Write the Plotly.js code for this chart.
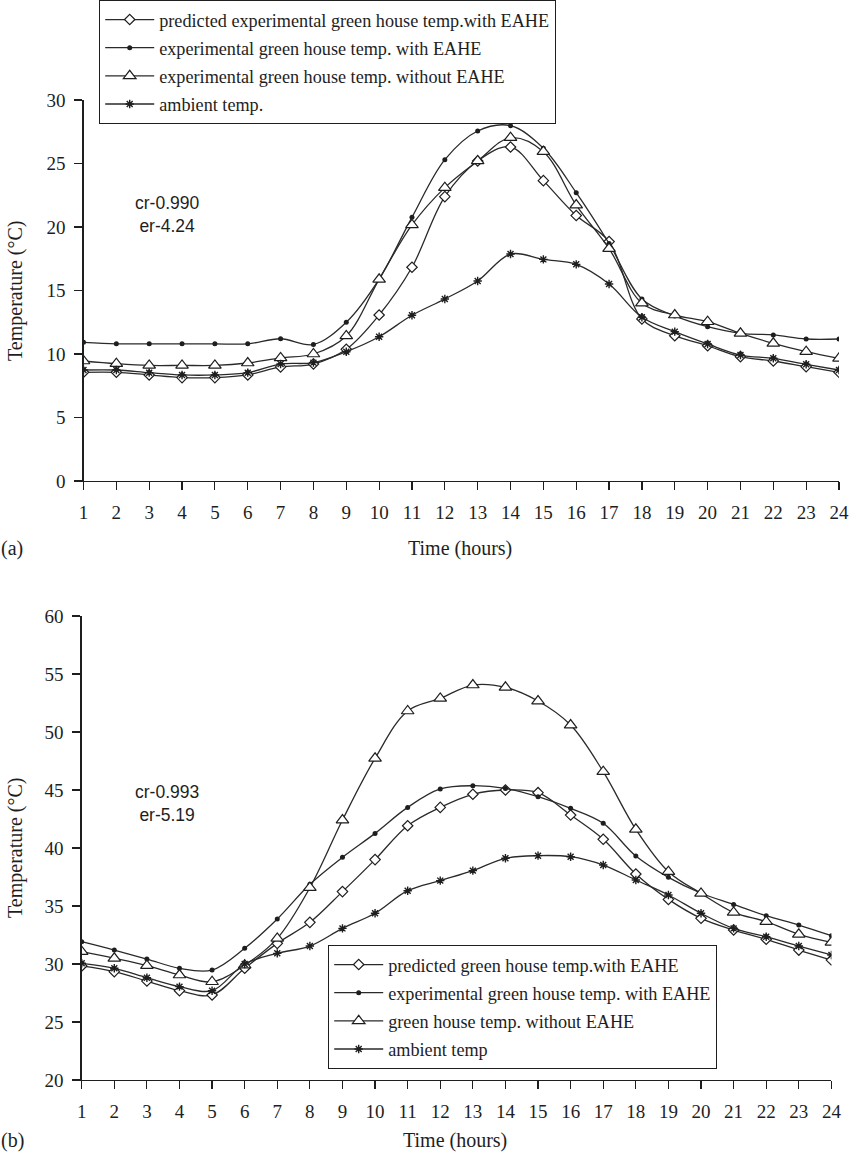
<!DOCTYPE html>
<html>
<head>
<meta charset="utf-8">
<script src="https://cdn.plot.ly/plotly-3.0.1.min.js"></script>
<style>
  body { margin: 0; background: #fff; }
  #chart { width: 850px; height: 1154px; }
</style>
</head>
<body>
<div id="chart"></div>
<script>
// hours on the x axis
const hours = [1,2,3,4,5,6,7,8,9,10,11,12,13,14,15,16,17,18,19,20,21,22,23,24];

// (a) first set of readings
const predA    = [8.56, 8.56, 8.35, 8.14, 8.14, 8.35, 8.98, 9.21, 10.37, 13.07, 16.83, 22.39, 25.2, 26.3, 23.65, 20.9, 18.85, 12.76, 11.44, 10.65, 9.79, 9.45, 9.0, 8.56];
const expA     = [10.92, 10.8, 10.8, 10.8, 10.8, 10.8, 11.2, 10.75, 12.5, 15.9, 20.76, 25.3, 27.56, 27.98, 26.2, 22.7, 18.7, 14.33, 13.0, 12.15, 11.63, 11.5, 11.18, 11.18];
const withoutA = [9.45, 9.24, 9.1, 9.1, 9.1, 9.29, 9.69, 10.0, 11.42, 15.88, 20.16, 23.1, 25.2, 27.03, 25.93, 21.73, 18.3, 14.0, 13.07, 12.54, 11.63, 10.84, 10.18, 9.66];
const ambA     = [8.74, 8.74, 8.53, 8.35, 8.35, 8.53, 9.21, 9.32, 10.18, 11.36, 13.05, 14.33, 15.75, 17.87, 17.45, 17.06, 15.51, 12.89, 11.76, 10.79, 9.92, 9.66, 9.19, 8.74];

// (b) second set of readings
const predB    = [29.83, 29.34, 28.53, 27.7, 27.33, 29.63, 31.78, 33.59, 36.24, 39.0, 41.92, 43.5, 44.63, 45.0, 44.77, 42.84, 40.75, 37.76, 35.57, 33.94, 32.93, 32.13, 31.2, 30.34];
const expB     = [31.92, 31.2, 30.43, 29.63, 29.48, 31.35, 33.88, 36.87, 39.2, 41.26, 43.5, 45.09, 45.37, 45.14, 44.42, 43.42, 42.13, 39.31, 37.47, 36.1, 35.14, 34.16, 33.36, 32.44];
const withoutB = [31.06, 30.49, 29.86, 29.05, 28.47, 29.9, 32.21, 36.58, 42.41, 47.73, 51.81, 52.9, 54.05, 53.85, 52.67, 50.6, 46.58, 41.61, 37.96, 36.09, 34.45, 33.65, 32.56, 31.87];
const ambB     = [30.06, 29.63, 28.82, 28.05, 27.7, 30.0, 30.92, 31.55, 33.07, 34.37, 36.32, 37.19, 38.05, 39.11, 39.34, 39.25, 38.53, 37.24, 35.95, 34.37, 33.07, 32.35, 31.55, 30.78];

const namesA = ["predicted experimental green house temp.with EAHE",
                "experimental green house temp. with EAHE",
                "experimental green house temp. without EAHE",
                "ambient temp."];
const namesB = ["predicted green house temp.with EAHE",
                "experimental green house temp. with EAHE",
                "green house temp. without EAHE",
                "ambient temp"];

const W = 850, H = 1154;
const px = v => v / W;
const py = v => 1 - v / H;

const serif = "Liberation Serif, Times New Roman, serif";
const sans = "Liberation Sans, Arial, sans-serif";
const ink = "#1e1e1e";

// marker look per series: diamond, dot, triangle, star
const marks = [
  {symbol: "diamond", size: 8, color: "#fff", line: {color: ink, width: 1.2}},
  {symbol: "circle", size: 5, color: ink, line: {color: ink, width: 0}},
  {symbol: "triangle-up", size: 11, color: "#fff", line: {color: ink, width: 1.2}},
  {symbol: "asterisk-open", size: 7, color: ink, line: {color: ink, width: 1.4}}
];

function makeTrace(y, i, names, xa, ya, leg) {
  return {
    x: hours, y: y, name: names[i],
    xaxis: xa, yaxis: ya, legend: leg, legendgroup: leg + i,
    type: "scatter", mode: "lines+markers",
    line: {color: "#2a2a2a", width: 1.3, shape: "spline", smoothing: 1},
    marker: marks[i]
  };
}

const traces = [];
[predA, expA, withoutA, ambA].forEach((s, i) => traces.push(makeTrace(s, i, namesA, "x", "y", "legend")));
[predB, expB, withoutB, ambB].forEach((s, i) => traces.push(makeTrace(s, i, namesB, "x2", "y2", "legend2")));

const axisBase = {
  showline: true, linecolor: ink, linewidth: 1.3,
  ticks: "outside", ticklen: 8, tickcolor: ink, tickwidth: 1.2,
  showgrid: false, zeroline: false, fixedrange: true,
  tickfont: {family: serif, size: 19, color: ink}
};

const legendBase = {
  xanchor: "left", yanchor: "top",
  bgcolor: "#fff", bordercolor: ink, borderwidth: 1.2,
  font: {family: serif, size: 18.2, color: ink},
  itemwidth: 49,
  traceorder: "grouped", tracegroupgap: 1.5, itemclick: false
};

const layout = {
  width: W, height: H,
  margin: {l: 0, r: 0, t: 0, b: 0},
  paper_bgcolor: "#fff", plot_bgcolor: "#fff",
  showlegend: true,
  xaxis: Object.assign({}, axisBase, {
    domain: [px(83.5), px(839)], range: [1, 24], tickvals: hours, anchor: "y",
    ticklabelstandoff: 6
  }),
  yaxis: Object.assign({}, axisBase, {
    domain: [py(481), py(100)], range: [0, 30], dtick: 5, anchor: "x",
    ticklabelstandoff: 5
  }),
  xaxis2: Object.assign({}, axisBase, {
    domain: [px(81.7), px(831.4)], range: [1, 24], tickvals: hours, anchor: "y2",
    ticklabelstandoff: 6
  }),
  yaxis2: Object.assign({}, axisBase, {
    domain: [py(1080), py(616)], range: [20, 60], dtick: 5, anchor: "x2",
    ticklabelstandoff: 5
  }),
  legend: Object.assign({}, legendBase, {x: px(99), y: 1}),
  legend2: Object.assign({}, legendBase, {x: px(328), y: py(945)}),
  annotations: [
    {text: "cr-0.990<br>er-4.24", x: px(167), y: py(215)},
    {text: "cr-0.993<br>er-5.19", x: px(167), y: py(803)}
  ].map(a => Object.assign(a, {
    xref: "paper", yref: "paper", showarrow: false, align: "center",
    xanchor: "center", yanchor: "middle",
    font: {family: sans, size: 17.5, color: ink}
  })).concat([
    {text: "Temperature (°C)", x: px(15), y: py(291), textangle: -90},
    {text: "Temperature (°C)", x: px(15), y: py(848), textangle: -90},
    {text: "Time (hours)", x: px(460), y: py(548)},
    {text: "Time (hours)", x: px(455), y: py(1140)},
    {text: "(a)", x: px(12), y: py(548)},
    {text: "(b)", x: px(12), y: py(1140)}
  ].map(a => Object.assign(a, {
    xref: "paper", yref: "paper", showarrow: false,
    xanchor: "center", yanchor: "middle",
    font: {family: serif, size: 20, color: ink}
  })))
};

Plotly.newPlot("chart", traces, layout, {staticPlot: true});
</script>
</body>
</html>
